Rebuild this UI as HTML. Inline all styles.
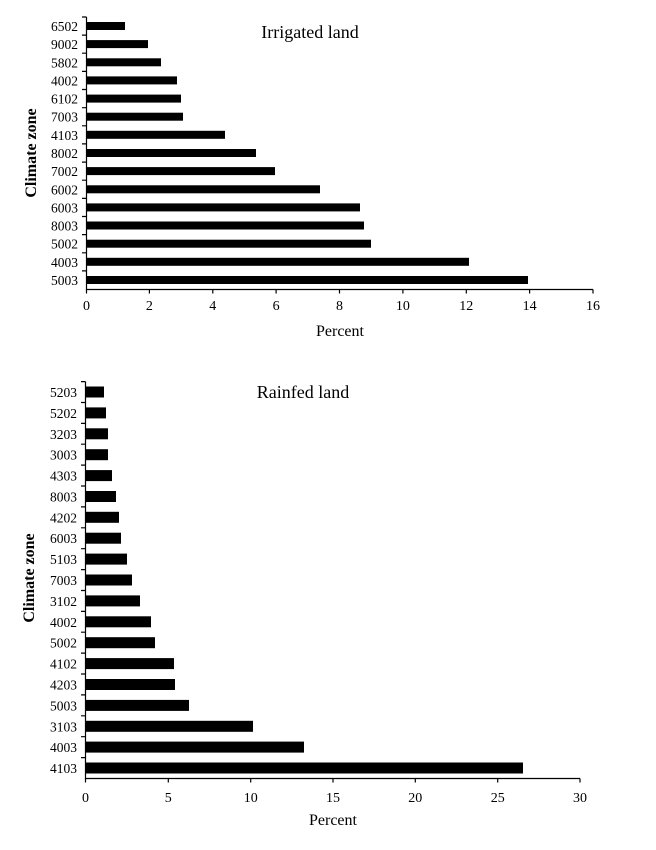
<!DOCTYPE html>
<html><head><meta charset="utf-8"><style>
html,body{margin:0;padding:0;background:#fff}
svg{display:block}
text{font-family:"Liberation Serif",serif;fill:#000}
</style></head><body>
<svg width="656" height="850" viewBox="0 0 656 850" xmlns="http://www.w3.org/2000/svg">
<!-- TOP CHART -->
<g fill="#000">
<rect x="87" y="22" width="38" height="8"/>
<rect x="87" y="40.1" width="61" height="8"/>
<rect x="87" y="58.3" width="74" height="8"/>
<rect x="87" y="76.4" width="90" height="8"/>
<rect x="87" y="94.6" width="94" height="8"/>
<rect x="87" y="112.7" width="96" height="8"/>
<rect x="87" y="130.8" width="138" height="8"/>
<rect x="87" y="149" width="169" height="8"/>
<rect x="87" y="167.1" width="188" height="8"/>
<rect x="87" y="185.3" width="233" height="8"/>
<rect x="87" y="203.4" width="273" height="8"/>
<rect x="87" y="221.5" width="277" height="8"/>
<rect x="87" y="239.7" width="284" height="8"/>
<rect x="87" y="257.8" width="382" height="8"/>
<rect x="87" y="276" width="441" height="8"/>
</g>
<g stroke="#000" stroke-width="1.2" fill="none">
<path d="M86.5 17V289.5H593"/>
<path d="M82 17H86.5M82 35.1H86.5M82 53.2H86.5M82 71.4H86.5M82 89.5H86.5M82 107.7H86.5M82 125.8H86.5M82 143.9H86.5M82 162.1H86.5M82 180.2H86.5M82 198.4H86.5M82 216.5H86.5M82 234.6H86.5M82 252.8H86.5M82 270.9H86.5"/>
<path d="M86.5 289.5V293.5M149.4 289.5V293.5M212.8 289.5V293.5M276.1 289.5V293.5M339.5 289.5V293.5M402.9 289.5V293.5M466.3 289.5V293.5M529.6 289.5V293.5M593 289.5V293.5"/>
</g>
<g font-size="13.5" text-anchor="end">
<text x="78" y="31">6502</text><text x="78" y="49.1">9002</text><text x="78" y="67.3">5802</text><text x="78" y="85.4">4002</text><text x="78" y="103.6">6102</text><text x="78" y="121.7">7003</text><text x="78" y="139.8">4103</text><text x="78" y="158">8002</text><text x="78" y="176.1">7002</text><text x="78" y="194.3">6002</text><text x="78" y="212.4">6003</text><text x="78" y="230.5">8003</text><text x="78" y="248.7">5002</text><text x="78" y="266.8">4003</text><text x="78" y="285">5003</text>
</g>
<g font-size="14" text-anchor="middle">
<text x="86.5" y="310">0</text><text x="149.4" y="310">2</text><text x="212.8" y="310">4</text><text x="276.1" y="310">6</text><text x="339.5" y="310">8</text><text x="402.9" y="310">10</text><text x="466.3" y="310">12</text><text x="529.6" y="310">14</text><text x="593" y="310">16</text>
<text x="340" y="336" font-size="16">Percent</text>
<text x="310" y="38" font-size="18">Irrigated land</text>
<text transform="translate(36,153) rotate(-90)" font-size="16" font-weight="bold">Climate zone</text>
</g>

<!-- BOTTOM CHART -->
<g fill="#000">
<rect x="86" y="386.5" width="18" height="11"/>
<rect x="86" y="407.4" width="20" height="11"/>
<rect x="86" y="428.3" width="22" height="11"/>
<rect x="86" y="449.2" width="22" height="11"/>
<rect x="86" y="470.1" width="26" height="11"/>
<rect x="86" y="491" width="30" height="11"/>
<rect x="86" y="511.8" width="33" height="11"/>
<rect x="86" y="532.7" width="35" height="11"/>
<rect x="86" y="553.6" width="41" height="11"/>
<rect x="86" y="574.5" width="46" height="11"/>
<rect x="86" y="595.4" width="54" height="11"/>
<rect x="86" y="616.3" width="65" height="11"/>
<rect x="86" y="637.2" width="69" height="11"/>
<rect x="86" y="658.1" width="88" height="11"/>
<rect x="86" y="679" width="89" height="11"/>
<rect x="86" y="699.9" width="103" height="11"/>
<rect x="86" y="720.8" width="167" height="11"/>
<rect x="86" y="741.6" width="218" height="11"/>
<rect x="86" y="762.5" width="437" height="11"/>
</g>
<g stroke="#000" stroke-width="1.2" fill="none">
<path d="M85.5 381.6V778.5H580"/>
<path d="M81 381.6H85.5M81 402.5H85.5M81 423.4H85.5M81 444.2H85.5M81 465.1H85.5M81 486H85.5M81 506.9H85.5M81 527.8H85.5M81 548.7H85.5M81 569.6H85.5M81 590.5H85.5M81 611.4H85.5M81 632.2H85.5M81 653.1H85.5M81 674H85.5M81 694.9H85.5M81 715.8H85.5M81 736.7H85.5M81 757.6H85.5"/>
<path d="M85.5 778.5V782.5M168.3 778.5V782.5M250.7 778.5V782.5M333 778.5V782.5M415.3 778.5V782.5M497.7 778.5V782.5M580 778.5V782.5"/>
</g>
<g font-size="13.5" text-anchor="end">
<text x="77" y="397">5203</text><text x="77" y="417.9">5202</text><text x="77" y="438.8">3203</text><text x="77" y="459.7">3003</text><text x="77" y="480.6">4303</text><text x="77" y="501.5">8003</text><text x="77" y="522.3">4202</text><text x="77" y="543.2">6003</text><text x="77" y="564.1">5103</text><text x="77" y="585">7003</text><text x="77" y="605.9">3102</text><text x="77" y="626.8">4002</text><text x="77" y="647.7">5002</text><text x="77" y="668.6">4102</text><text x="77" y="689.5">4203</text><text x="77" y="710.4">5003</text><text x="77" y="731.3">3103</text><text x="77" y="752.1">4003</text><text x="77" y="773">4103</text>
</g>
<g font-size="14" text-anchor="middle">
<text x="85.5" y="802">0</text><text x="168.3" y="802">5</text><text x="250.7" y="802">10</text><text x="333" y="802">15</text><text x="415.3" y="802">20</text><text x="497.7" y="802">25</text><text x="580" y="802">30</text>
<text x="333" y="825" font-size="16">Percent</text>
<text x="303" y="398" font-size="18">Rainfed land</text>
<text transform="translate(34,578) rotate(-90)" font-size="16" font-weight="bold">Climate zone</text>
</g>
</svg>
</body></html>
